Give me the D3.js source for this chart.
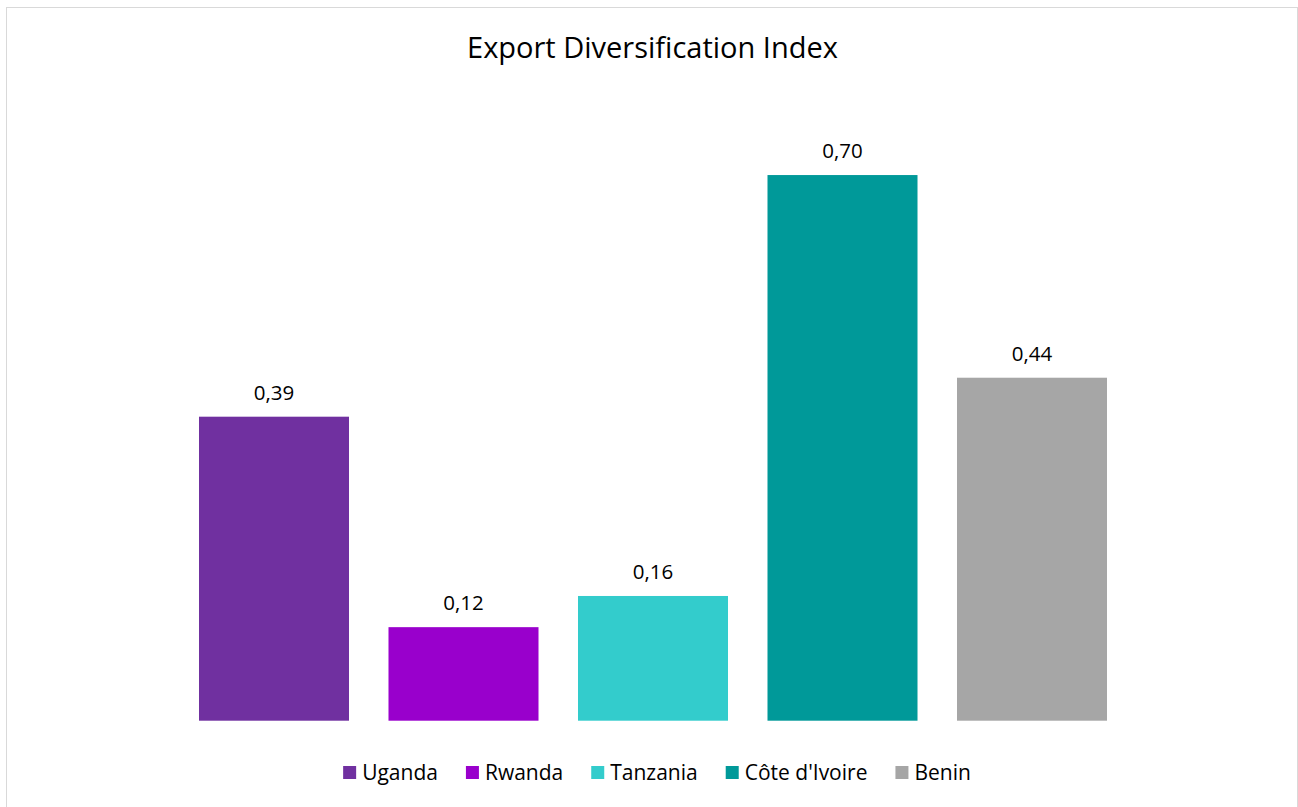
<!DOCTYPE html>
<html>
<head>
<meta charset="utf-8">
<script src="https://cdn.jsdelivr.net/npm/d3@7"></script>
<style>
  body { margin: 0; background: #fff; }
  text { font-family: "Open Sans", sans-serif; fill: #000; }
</style>
</head>
<body>
<script>
//Data
const countries = ['Uganda', 'Rwanda', 'Tanzania', "Côte d'Ivoire", 'Benin']
const values = [0.39, 0.12, 0.16, 0.70, 0.44]
const labels = ['0,39', '0,12', '0,16', '0,70', '0,44']
const colors = ['#7030A0', '#9900CC', '#33CCCC', '#009999', '#A6A6A6']

const w = 1298
const h = 807

const svg = d3.select('body')
  .append('svg')
  .attr('width', w)
  .attr('height', h)

//Chart border
svg.append('rect')
  .attr('x', 6.5)
  .attr('y', 7.5)
  .attr('width', 1291)
  .attr('height', 810)
  .attr('fill', 'none')
  .attr('stroke', '#d9d9d9')

//Title
svg.append('text')
  .attr('x', 652.5)
  .attr('y', 58)
  .attr('text-anchor', 'middle')
  .style('font-size', '29px')
  .text('Export Diversification Index')

//Scales
const xScale = d3.scaleBand()
  .domain(countries)
  .range([179.25, 1126.75])
  .paddingInner(0.2084)
  .paddingOuter(0.1042)

const yScale = d3.scaleLinear()
  .domain([0, 0.8])
  .range([720.7, 97.1])

const data = countries.map((c, i) => ({ c: c, v: values[i], label: labels[i], color: colors[i] }))

//Bars
svg.selectAll('rect.bar')
  .data(data)
  .enter()
  .append('rect')
  .attr('class', 'bar')
  .attr('x', d => xScale(d.c))
  .attr('y', d => yScale(d.v))
  .attr('width', xScale.bandwidth())
  .attr('height', d => yScale(0) - yScale(d.v))
  .attr('fill', d => d.color)

//Value labels
svg.selectAll('text.lbl')
  .data(data)
  .enter()
  .append('text')
  .attr('class', 'lbl')
  .attr('x', d => xScale(d.c) + xScale.bandwidth() / 2)
  .attr('y', d => yScale(d.v) - 17)
  .attr('text-anchor', 'middle')
  .style('font-size', '20.5px')
  .text(d => d.label)

//Legend
const legend = svg.append('g')
const items = legend.selectAll('g')
  .data(data)
  .enter()
  .append('g')

items.append('rect')
  .attr('width', 13)
  .attr('height', 13)
  .attr('y', 766)
  .attr('fill', d => d.color)

items.append('text')
  .attr('x', 19)
  .attr('y', 779.5)
  .style('font-size', '21px')
  .text(d => d.c)

let xPos = 0
const gap = 28
items.each(function() {
  const g = d3.select(this)
  const tw = g.select('text').node().getComputedTextLength()
  g.attr('transform', 'translate(' + xPos + ',0)')
  xPos += 19 + tw + gap
})
const totalW = xPos - gap
legend.attr('transform', 'translate(' + (657 - totalW / 2) + ',0)')
</script>
</body>
</html>
